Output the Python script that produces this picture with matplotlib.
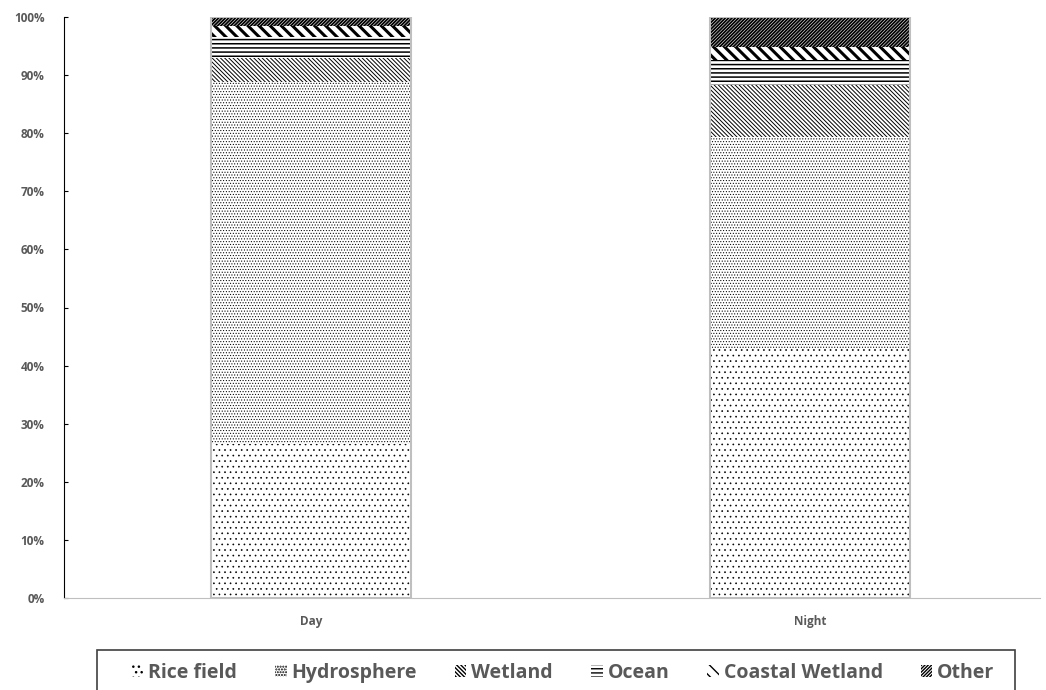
import numpy as np
import matplotlib
matplotlib.use('Agg')
import matplotlib.pyplot as plt
from matplotlib.ticker import PercentFormatter
from matplotlib.patches import Rectangle

# data (percent of total)
periods = ['Day', 'Night']
sources = ['Rice field', 'Hydrosphere', 'Wetland', 'Ocean', 'Coastal Wetland', 'Other']
rice = [26.5, 42.9]
hydro = [62.3, 36.4]
wetland = [4.1, 9.0]
ocean = [3.6, 4.3]
coastal = [2.0, 2.2]
other = [1.5, 5.2]

hatches = ['...', '......', '\\\\\\\\\\\\\\\\', '----', '\\\\\\', '//////////']
hatch_lw = [0.45, 0.45, 0.7, 1.1, 2.2, 1.3]

plt.rcParams['font.family'] = ['Open Sans', 'DejaVu Sans']

fig = plt.figure(figsize=(10.46, 6.9), dpi=100)
ax = fig.add_axes([64/1046, 1 - 598/690, (1040-64)/1046, (598-17)/690])

x = np.arange(len(periods))
bottom = np.zeros(len(periods))
series = [rice, hydro, wetland, ocean, coastal, other]
for name, vals, h, hl in zip(sources, series, hatches, hatch_lw):
    with plt.rc_context({'hatch.linewidth': hl}):
        ax.bar(x, vals, 0.4, bottom=bottom, color='white', edgecolor='black',
               hatch=h, linewidth=0, label=name)
    bottom += np.array(vals)
# light border round each bar
ax.bar(x, bottom, 0.4, fill=False, edgecolor='#bfbfbf', linewidth=1.5)

ax.set_xlim(-0.495, 1.461)
ax.set_ylim(0, 100)
ax.set_yticks(np.arange(0, 101, 10))
ax.yaxis.set_major_formatter(PercentFormatter(decimals=0))
ax.set_xticks(x)
ax.set_xticklabels(periods)
for s in ['top', 'right']:
    ax.spines[s].set_visible(False)
ax.spines['left'].set_color('black')
ax.spines['bottom'].set_color('#bfbfbf')
ax.tick_params(axis='y', direction='in', length=3, colors='#595959', labelsize=8.5, pad=14)
ax.tick_params(axis='x', length=0, colors='#595959', labelsize=8.5, pad=12)
for t in ax.get_yticklabels() + ax.get_xticklabels():
    t.set_fontweight('bold')
ax.tick_params(axis='y', color='black')

leg = fig.legend(loc='center', bbox_to_anchor=(563/1046, 1 - 673/690), ncol=6,
                 frameon=False,
                 handlelength=0.6, handleheight=0.6, handletextpad=0.25,
                 columnspacing=1.95, borderpad=0.0,
                 prop={'size': 14, 'weight': 'bold'})
for t in leg.get_texts():
    t.set_color('#595959')
for p in leg.legend_handles:
    p.set_linewidth(0)

# legend box, running off the bottom of the picture
fig.patches.append(Rectangle((97/1046, -0.05), (1015-97)/1046, 0.05 + 1 - 650/690,
                             transform=fig.transFigure, fill=False,
                             edgecolor='#404040', linewidth=1.2))

fig.savefig('out.png', dpi=100)
